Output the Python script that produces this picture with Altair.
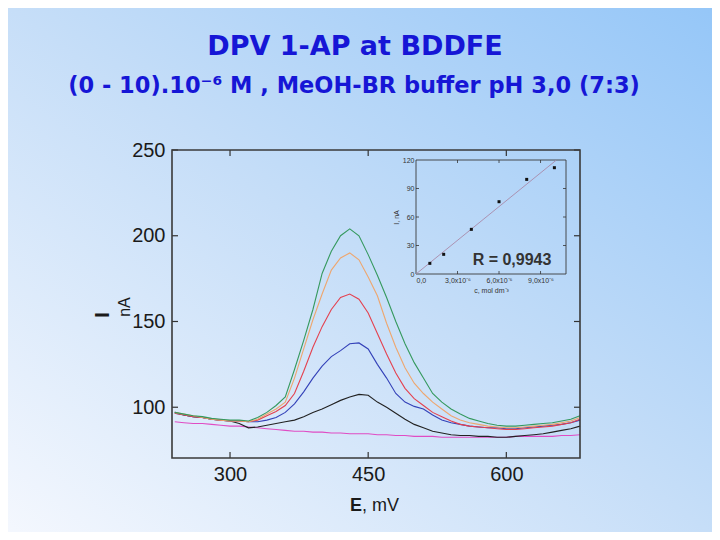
import altair as alt
import pandas as pd

# ---------------- data ----------------
E_MV = list(range(240, 690, 10))  # potential, mV

GREEN = [97, 96, 95, 94.5, 93.5, 93, 92.5, 92.5, 92, 94, 97, 101, 106, 122, 139, 157, 178, 191, 200, 204,
         200, 189, 177, 164, 150, 137, 126, 117, 108, 103, 99, 96, 93.5, 92, 90.5, 89.5, 89, 89, 89.5, 90,
         90.5, 91, 92, 93, 95]
ORANGE = [97, 96, 95, 94, 93, 92.5, 92, 92, 91.5, 93, 96, 99, 103, 117, 134, 151, 166, 180, 187, 190,
          186, 176, 165, 149, 135, 123, 114, 108, 103, 99, 95, 92.5, 91, 90, 89, 88.5, 88, 88, 88.5, 89,
          89.5, 90, 91, 92, 94]
RED = [96.5, 95.5, 94.5, 94, 93, 92.5, 92, 92, 91.5, 92.5, 95, 97.5, 101, 108, 121, 135, 147, 157, 164, 166,
       163, 155, 143, 131, 120, 111, 105, 101, 97, 94.5, 92, 90, 89, 88.5, 88, 87.5, 87, 87, 87.5, 88,
       88.5, 89, 90, 91, 93]
BLUE = [96.5, 95.5, 94.5, 94, 93, 92.5, 92, 92, 91.5, 91.5, 92.5, 94, 97, 102, 109, 117, 124, 129.5, 133, 137,
        137.5, 134, 125, 117, 108, 103, 100.5, 99, 95.5, 92.5, 91, 90, 89, 88.5, 88, 88, 87.5, 87.5, 88, 88.5,
        89, 89.5, 90, 91, 92.5]
BLACK = [97, 95.5, 94.5, 94, 93, 92.5, 92, 90.5, 88, 88.5, 89.5, 90.5, 91.5, 92.5, 94.5, 97, 99, 101.5, 104, 106,
         107.5, 107, 103, 100, 96.5, 93, 90, 88, 86, 85, 84, 83.5, 83.5, 83, 83, 82.5, 82.5, 83, 83.5, 84,
         84.5, 85.5, 86.5, 87.5, 89]
PINK = [91.5, 91, 90.5, 90.5, 90, 89.5, 89, 89, 88.5, 88, 87.5, 87, 86.5, 86, 86, 85.5, 85.5, 85, 85, 84.5,
        84.5, 84.5, 84, 84, 83.5, 83.5, 83, 83, 83, 82.5, 82.5, 82.5, 82.5, 82.5, 82.5, 82.5, 82.5, 83, 83, 83,
        83, 83, 83.5, 83.5, 84]

SERIES_NAMES = ["blank", "c2", "c4", "c6", "c8", "c10"]
SERIES_VALUES = [PINK, BLACK, BLUE, RED, ORANGE, GREEN]
SERIES_COLORS = ["#e04cc4", "#222222", "#3341b8", "#e4414f", "#eea66e", "#35995e"]

X_TICKS = [300, 450, 600]
Y_TICKS = [100, 150, 200, 250]

# inset calibration plot
INSET_C = [1.0, 2.0, 4.0, 6.0, 8.0, 10.0]          # in 10^-6 mol dm^-3
INSET_I = [11.2, 20.7, 47.0, 76.1, 99.6, 111.9]    # nA
INSET_X_TICKS = [0, 3, 6, 9]
INSET_Y_TICKS = [0, 30, 60, 90, 120]
INSET_INNER_X = [3, 6, 9]
INSET_INNER_Y = [30, 60, 90]

TITLE_1 = "DPV 1-AP at BDDFE"
TITLE_2 = "(0 - 10).10\u207b\u2076 M , MeOH-BR buffer pH 3,0 (7:3)"
R_TEXT = "R = 0,9943"

# ---------------- build ----------------
rows = []
for name, vals in zip(SERIES_NAMES, SERIES_VALUES):
    for e, v in zip(E_MV, vals):
        rows.append({"E": e, "I": v, "s": name})
df = pd.DataFrame(rows)

W, H = 408, 308
FONT = "Liberation Sans"
one = pd.DataFrame({"a": [0]})

xs = alt.Scale(domain=[237, 680], nice=False, zero=False)
ys = alt.Scale(domain=[70.4, 250], nice=False, zero=False)
x_axis = alt.Axis(values=X_TICKS, title=None, ticks=False, tickSize=0, domain=False, grid=False, zindex=2,
                  labelFontSize=20, labelFont=FONT, labelColor="#1a1a1a", labelPadding=6)
y_axis = alt.Axis(values=Y_TICKS, title=None, ticks=False, tickSize=0, domain=False, grid=False, zindex=2,
                  labelFontSize=20, labelFont=FONT, labelColor="#1a1a1a", labelPadding=7)

bg = alt.Chart(one).mark_rect(
    fill=alt.Gradient(
        gradient="linear",
        stops=[alt.GradientStop(color="#f5f8fe", offset=0),
               alt.GradientStop(color="#c6def8", offset=0.5),
               alt.GradientStop(color="#94c6f8", offset=1)],
        x1=0, y1=1, x2=1, y2=0),
    strokeWidth=0,
).encode(x=alt.value(-172), x2=alt.value(720 - 172), y=alt.value(-150), y2=alt.value(540 - 150))

lines = alt.Chart(df).mark_line(strokeWidth=1.1).encode(
    x=alt.X("E:Q", scale=xs, axis=x_axis),
    y=alt.Y("I:Q", scale=ys, axis=y_axis),
    color=alt.Color("s:N", scale=alt.Scale(domain=SERIES_NAMES, range=SERIES_COLORS), legend=None),
    detail="s:N",
)

xt = pd.DataFrame({"E": X_TICKS})
yt = pd.DataFrame({"I": Y_TICKS})
tick_style = dict(color="#333333", strokeWidth=1.2)
xt_bottom = alt.Chart(xt).mark_rule(**tick_style).encode(
    x=alt.X("E:Q", scale=xs, axis=x_axis), y=alt.value(H - 6), y2=alt.value(H))
xt_top = alt.Chart(xt).mark_rule(**tick_style).encode(
    x=alt.X("E:Q", scale=xs, axis=x_axis), y=alt.value(0), y2=alt.value(6))
yt_left = alt.Chart(yt).mark_rule(**tick_style).encode(
    y=alt.Y("I:Q", scale=ys, axis=y_axis), x=alt.value(0), x2=alt.value(6))
yt_right = alt.Chart(yt).mark_rule(**tick_style).encode(
    y=alt.Y("I:Q", scale=ys, axis=y_axis), x=alt.value(W - 6), x2=alt.value(W))

frame = alt.Chart(one).mark_rect(fillOpacity=0, stroke="#3a3a3a", strokeWidth=1.6).encode(
    x=alt.value(0), x2=alt.value(W), y=alt.value(0), y2=alt.value(H))


def txt(s, x, y, **kw):
    return alt.Chart(pd.DataFrame({"t": [s]})).mark_text(**kw).encode(
        x=alt.value(x), y=alt.value(y), text="t:N")


t1 = txt(TITLE_1, 183, -103, font="DejaVu Sans", fontWeight="bold", fontSize=27, color="#1616d6",
         align="center", baseline="middle")
t2 = txt(TITLE_2, 182, -64, font="DejaVu Sans", fontWeight="bold", fontSize=22.5, color="#1616d6",
         align="center", baseline="middle")
xl1 = txt("E", 178, 356, font=FONT, fontWeight="bold", fontSize=18, color="#1a1a1a",
          align="left", baseline="middle")
xl2 = txt(", mV", 190, 356, font=FONT, fontSize=18, color="#1a1a1a", align="left", baseline="middle")
yl1 = txt("I", -69, 165, font=FONT, fontWeight="bold", fontSize=20, color="#1a1a1a", angle=270,
          align="center", baseline="middle")
yl2 = txt("nA", -47, 157, font=FONT, fontSize=16, color="#1a1a1a", angle=270,
          align="center", baseline="middle")
rtxt = txt(R_TEXT, 340, 110, font=FONT, fontWeight="bold", fontSize=16, color="#333333",
           align="center", baseline="middle")

main = alt.layer(bg, lines, xt_bottom, xt_top, yt_left, yt_right, frame, t1, t2, xl1, xl2, yl1, yl2, rtxt)

# ---------------- inset ----------------
idf = pd.DataFrame({"c": INSET_C, "i": INSET_I})
ixs = alt.Scale(domain=[0, 10.84], range=[244, 394], nice=False, zero=False)
iys = alt.Scale(domain=[0, 120], range=[124, 10], nice=False, zero=False)

ax_common = dict(ticks=False, tickSize=0, domain=False, grid=False, zindex=2, labelFontSize=7, labelFont=FONT,
                 labelColor="#333333", titleFont=FONT, titleFontSize=7, titleFontWeight="normal",
                 titleColor="#333333")
ix_axis = alt.Axis(orient="bottom", offset=-(H - 124), values=INSET_X_TICKS,
                   labelExpr="datum.value == 0 ? '0,0' : replace(format(datum.value, '.1f'), '.', ',') + 'x10\u207b\u2076'",
                   title="c, mol dm\u207b\u00b3", titlePadding=3, labelPadding=2, **ax_common)
iy_axis = alt.Axis(orient="left", offset=-244, values=INSET_Y_TICKS, title="I, nA",
                   titlePadding=3, labelPadding=2, **ax_common)

inset_pts = alt.Chart(idf).mark_square(size=9, color="#111111", opacity=1).encode(
    x=alt.X("c:Q", scale=ixs, axis=ix_axis),
    y=alt.Y("i:Q", scale=iys, axis=iy_axis),
)
inset_fit = alt.Chart(idf).transform_regression("c", "i", extent=[0, 10.14]).mark_line(
    color="#a98aa9", strokeWidth=0.9).encode(
    x=alt.X("c:Q", scale=ixs, axis=ix_axis), y=alt.Y("i:Q", scale=iys, axis=iy_axis))

iframe_df = pd.DataFrame({"c": [0], "c1": [10.84], "i": [0], "i1": [120]})
inset_frame = alt.Chart(iframe_df).mark_rect(fillOpacity=0, stroke="#3a3a3a", strokeWidth=0.9).encode(
    x=alt.X("c:Q", scale=ixs, axis=ix_axis), x2="c1:Q",
    y=alt.Y("i:Q", scale=iys, axis=iy_axis), y2="i1:Q")

ixt = pd.DataFrame({"c": INSET_INNER_X})
iyt = pd.DataFrame({"i": INSET_INNER_Y})
itick = dict(color="#333333", strokeWidth=0.8)
ixt_b = alt.Chart(ixt).mark_rule(**itick).encode(
    x=alt.X("c:Q", scale=ixs, axis=ix_axis), y=alt.value(121), y2=alt.value(124))
ixt_t = alt.Chart(ixt).mark_rule(**itick).encode(
    x=alt.X("c:Q", scale=ixs, axis=ix_axis), y=alt.value(10), y2=alt.value(13))
iyt_l = alt.Chart(iyt).mark_rule(**itick).encode(
    y=alt.Y("i:Q", scale=iys, axis=iy_axis), x=alt.value(244), x2=alt.value(247))
iyt_r = alt.Chart(iyt).mark_rule(**itick).encode(
    y=alt.Y("i:Q", scale=iys, axis=iy_axis), x=alt.value(391), x2=alt.value(394))

inset = alt.layer(inset_frame, inset_fit, inset_pts, ixt_b, ixt_t, iyt_l, iyt_r)

chart = alt.layer(main, inset).resolve_scale(x="independent", y="independent").properties(
    width=W, height=H,
    padding={"left": 164, "top": 142, "right": 132, "bottom": 74},
    autosize=alt.AutoSizeParams(type="none"),
    background="#c6def8",
).configure_view(stroke=None)

chart.save("out.html", embed_options={"renderer": "svg", "actions": False})
